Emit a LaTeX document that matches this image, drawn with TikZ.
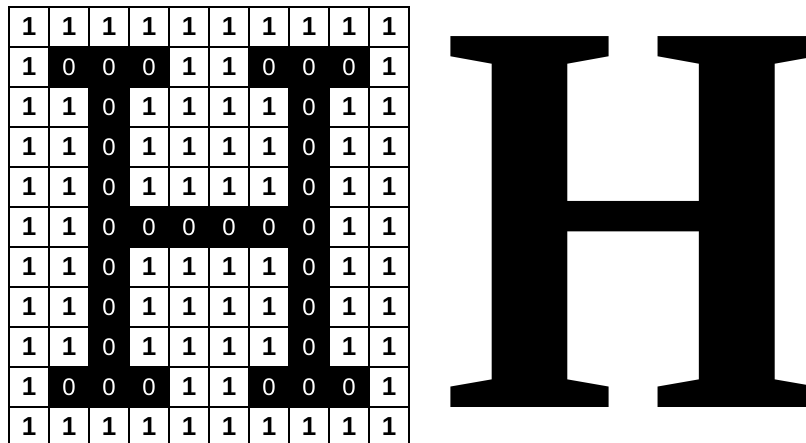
\documentclass[tikz,border=0pt]{standalone}
\usepackage{fontspec}
\newfontfamily\fontecasa{Liberation Sans}
\newfontfamily\fonteletra{Liberation Serif}
\usepackage{graphicx}
\tikzset{
  casa1/.style={draw, line width=1.5pt, fill=white, minimum size=40pt, inner sep=0pt, text=black, font=\fontecasa\bfseries\fontsize{26}{26}\selectfont},
  casa0/.style={draw, line width=1.5pt, fill=black, minimum size=40pt, inner sep=0pt, text=white, font=\fontecasa\fontsize{24}{24}\selectfont},
}

\begin{document}
\begin{tikzpicture}[x=1pt,y=-1pt]
  \useasboundingbox (0,0) rectangle (806,443);
  \clip (0,0) rectangle (806,443);
  \fill[white] (0,0) rectangle (806,443);
  % matriz binaria da letra
  \foreach \linha [count=\r] in {
      {1,1,1,1,1,1,1,1,1,1},
      {1,0,0,0,1,1,0,0,0,1},
      {1,1,0,1,1,1,1,0,1,1},
      {1,1,0,1,1,1,1,0,1,1},
      {1,1,0,1,1,1,1,0,1,1},
      {1,1,0,0,0,0,0,0,1,1},
      {1,1,0,1,1,1,1,0,1,1},
      {1,1,0,1,1,1,1,0,1,1},
      {1,1,0,1,1,1,1,0,1,1},
      {1,0,0,0,1,1,0,0,0,1},
      {1,1,1,1,1,1,1,1,1,1}}{
    \foreach \v [count=\c] in \linha {
      \node[casa\v] (m\r-\c) at ({40*\c-11},{40*\r-13}) {\v};
    }
  }
  % letra
  \node[inner sep=0pt] (letraH) at (634,222) {\resizebox{381pt}{370pt}{\fonteletra\bfseries H}};
\end{tikzpicture}
\end{document}
